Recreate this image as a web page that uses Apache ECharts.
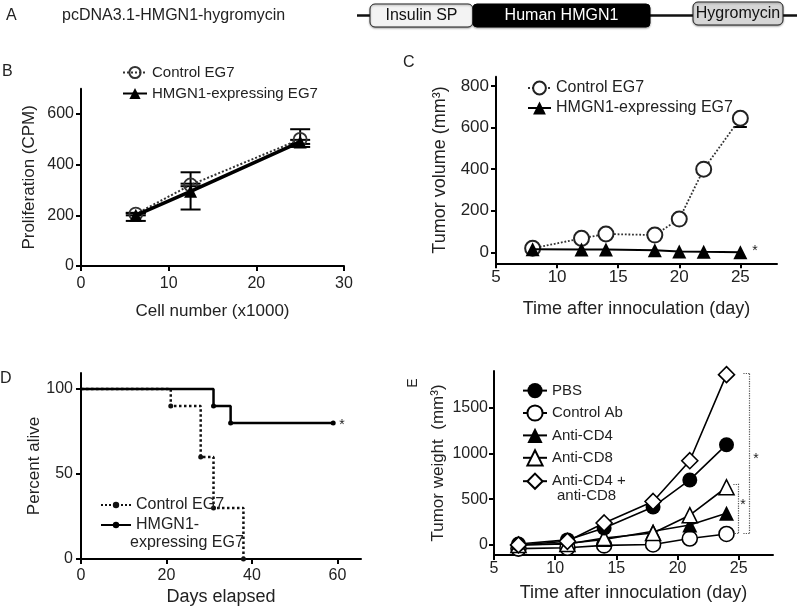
<!DOCTYPE html>
<html><head><meta charset="utf-8">
<script src="https://cdn.jsdelivr.net/npm/echarts@6/dist/echarts.min.js"></script>
<style>html,body{margin:0;padding:0;background:#fff}#c{width:800px;height:607px}</style>
</head><body><div id="c"></div>
<script>
// ---------- Panel B: proliferation ----------
const bCells = [6.25, 12.5, 25];
const bControl = [205, 320, 500];
const bControlErrLo = [5, 5, 30];
const bControlErrHi = [5, 5, 40];
const bHmgn1 = [200, 295, 490];
const bHmgn1ErrLo = [22, 72, 8];
const bHmgn1ErrHi = [8, 75, 8];
const bXTicks = [0, 10, 20, 30];
const bYTicks = [0, 200, 400, 600];
// ---------- Panel C: tumor volume ----------
const cDays = [8, 12, 14, 18, 20, 22, 25];
const cControl = [19, 67, 88, 83, 160, 400, 645];
const cControlErrLo = [0, 0, 0, 0, 0, 0, 42];
const cControlErrHi = [0, 0, 0, 0, 0, 0, 0];
const cHmgn1 = [15, 14, 13, 10, 4, 2, 0];
const cXTicks = [5, 10, 15, 20, 25];
const cYTicks = [0, 200, 400, 600, 800];
// ---------- Panel D: survival ----------
const dControlDays = [0, 21, 28, 31, 38];
const dControlPct = [100, 90, 60, 30, 0];
const dHmgn1Days = [0, 31, 35, 59];
const dHmgn1Pct = [100, 90, 80, 80];
const dXTicks = [0, 20, 40, 60];
const dYTicks = [0, 50, 100];
// ---------- Panel E: depletion ----------
const eDays = [7, 11, 14, 18, 21, 24];
const ePBS = [10, 55, 185, 415, 710, 1095];
const eControlAb = [-40, -30, -5, 5, 70, 120];
const eAntiCD4 = [0, 15, 60, 150, 218, 345];
const eAntiCD8 = [0, 10, 75, 130, 325, 630];
const eAntiCD4CD8 = [0, 40, 240, 475, 920, 1860];
const eXTicks = [5, 10, 15, 20, 25];
const eYTicks = [0, 500, 1000, 1500];
// significance brackets (annotation, data coords)
const eBracketBig = [[25.38, 1870], [25.87, 1870], [25.87, 128], [25.38, 128]];
const eBracketSmall = [[24.56, 667], [24.97, 667], [24.97, 131], [24.56, 131]];

const FF = "'Liberation Sans', Arial, Helvetica, sans-serif";
const TXT = '#222';
const plain = v => String(v);

function axis(grid, min, max, ticks, opts) {
  return {
    type: 'value', gridIndex: grid, min, max,
    name: opts.name, nameLocation: 'middle', nameGap: opts.nameGap,
    nameTextStyle: {fontFamily: FF, fontSize: opts.nameSize, color: TXT},
    axisLine: {show: true, onZero: false, lineStyle: {color: '#000', width: 2}},
    axisTick: {show: true, length: 5, customValues: ticks, lineStyle: {color: '#000', width: 2}},
    axisLabel: {customValues: ticks, formatter: plain, margin: opts.margin, fontFamily: FF, fontSize: opts.labelSize, color: TXT},
    splitLine: {show: false}
  };
}
function pairs(xs, ys) { return xs.map((x, i) => [x, ys[i]]); }
function errorBars(idx, xs, ys, lo, hi, capW, lw) {
  const data = [];
  xs.forEach((x, i) => { if (lo[i] > 0 || hi[i] > 0) data.push([x, ys[i] - lo[i], ys[i] + hi[i], ys[i]]); });
  return {
    type: 'custom', xAxisIndex: idx, yAxisIndex: idx, silent: true, z: 1,
    data, encode: {x: 0, y: [1, 2]},
    renderItem(params, api) {
      const x = api.value(0);
      const pLo = api.coord([x, api.value(1)]);
      const pHi = api.coord([x, api.value(2)]);
      const pMid = api.coord([x, api.value(3)]);
      const style = {stroke: '#000', lineWidth: lw};
      const ch = [{type: 'line', shape: {x1: pLo[0], y1: pLo[1], x2: pHi[0], y2: pHi[1]}, style}];
      if (pLo[1] - pMid[1] > 0.5) ch.push({type: 'line', shape: {x1: pLo[0] - capW, y1: pLo[1], x2: pLo[0] + capW, y2: pLo[1]}, style});
      if (pMid[1] - pHi[1] > 0.5) ch.push({type: 'line', shape: {x1: pHi[0] - capW, y1: pHi[1], x2: pHi[0] + capW, y2: pHi[1]}, style});
      return {type: 'group', children: ch};
    }
  };
}
function stepData(xs, ys) {
  return xs.map((x, i) => i === 0 ? {value: [x, ys[i]], symbol: 'none'} : [x, ys[i]]);
}
function bracket(pts) {
  const segs = [];
  for (let i = 0; i < pts.length - 1; i++) segs.push([{coord: pts[i]}, {coord: pts[i + 1]}]);
  return segs;
}
const stripName = n => n.split('|')[1];
const legendText = {fontFamily: FF, color: TXT};

const option = {
  animation: false,
  backgroundColor: '#fff',
  grid: [
    {left: 81, top: 88.7, width: 263, height: 177.3},
    {left: 496, top: 76.7, width: 281, height: 186.6},
    {left: 81, top: 373, width: 280, height: 186},
    {left: 494, top: 371, width: 279, height: 184}
  ],
  xAxis: [
    axis(0, 0, 30, bXTicks, {name: 'Cell number (x1000)', nameGap: 37, nameSize: 17, margin: 10, labelSize: 16}),
    axis(1, 5, 28, cXTicks, {name: 'Time after innoculation (day)', nameGap: 37, nameSize: 18, margin: 6, labelSize: 17}),
    axis(2, 0, 65.5, dXTicks, {name: 'Days elapsed', nameGap: 29, nameSize: 18, margin: 9, labelSize: 16}),
    axis(3, 5, 27.8, eXTicks, {name: 'Time after innoculation (day)', nameGap: 29, nameSize: 18, margin: 6, labelSize: 16})
  ],
  yAxis: [
    axis(0, 0, 700, bYTicks, {name: 'Proliferation (CPM)', nameGap: 43, nameSize: 17, margin: 7, labelSize: 16}),
    axis(1, -53, 845, cYTicks, {name: 'Tumor volume (mm³)', nameGap: 47, nameSize: 18, margin: 7, labelSize: 17}),
    axis(2, 0, 109.4, dYTicks, {name: 'Percent alive', nameGap: 38, nameSize: 17, margin: 8, labelSize: 16}),
    axis(3, -110, 1900, eYTicks, {name: 'Tumor weight  (mm³)', nameGap: 47, nameSize: 17, margin: 6, labelSize: 16})
  ],
  legend: [
    {left: 117, top: 60, orient: 'vertical', itemWidth: 24, itemHeight: 14, itemGap: 6, selectedMode: false,
     data: ['B|Control EG7', 'B|HMGN1-expressing EG7'], formatter: stripName, textStyle: Object.assign({fontSize: 15}, legendText)},
    {left: 522, top: 75, orient: 'vertical', itemWidth: 23, itemHeight: 16, itemGap: 4, selectedMode: false,
     data: ['C|Control EG7', 'C|HMGN1-expressing EG7'], formatter: stripName, textStyle: Object.assign({fontSize: 16}, legendText)},
    {left: 95, top: 492, orient: 'vertical', itemWidth: 30, itemHeight: 8, itemGap: 4, selectedMode: false,
     data: ['D|Control EG7', 'D|HMGN1-expressing EG7'],
     formatter: n => n === 'D|HMGN1-expressing EG7' ? 'HMGN1-' : stripName(n),
     textStyle: Object.assign({fontSize: 16}, legendText)},
    {left: 517, top: 378, orient: 'vertical', itemWidth: 24, itemHeight: 19, itemGap: 6.2, selectedMode: false,
     data: ['E|PBS', 'E|Control Ab', 'E|Anti-CD4', 'E|Anti-CD8', 'E|Anti-CD4 + anti-CD8'],
     formatter: n => n === 'E|Anti-CD4 + anti-CD8' ? 'Anti-CD4 +' : stripName(n),
     textStyle: Object.assign({fontSize: 15}, legendText)}
  ],
  series: [
    // ----- B -----
    errorBars(0, bCells, bControl, bControlErrLo, bControlErrHi, 10, 2),
    errorBars(0, bCells, bHmgn1, bHmgn1ErrLo, bHmgn1ErrHi, 10, 2),
    {name: 'B|Control EG7', type: 'line', xAxisIndex: 0, yAxisIndex: 0, data: pairs(bCells, bControl),
     symbol: 'circle', symbolSize: 13, lineStyle: {color: '#333', width: 2, type: 'dotted'},
     itemStyle: {color: 'rgba(255,255,255,0)', borderColor: '#333', borderWidth: 1.8}, z: 2},
    {name: 'B|HMGN1-expressing EG7', type: 'line', xAxisIndex: 0, yAxisIndex: 0, data: pairs(bCells, bHmgn1),
     symbol: 'triangle', symbolSize: 13, lineStyle: {color: '#000', width: 3.5},
     itemStyle: {color: '#000'}, z: 3},
    // ----- C -----
    errorBars(1, cDays, cControl, cControlErrLo, cControlErrHi, 6.5, 2),
    {name: 'C|Control EG7', type: 'line', xAxisIndex: 1, yAxisIndex: 1, data: pairs(cDays, cControl),
     symbol: 'circle', symbolSize: 15, lineStyle: {color: '#333', width: 1.8, type: 'dotted'},
     itemStyle: {color: '#fff', borderColor: '#222', borderWidth: 2}, z: 2},
    {name: 'C|HMGN1-expressing EG7', type: 'line', xAxisIndex: 1, yAxisIndex: 1, data: pairs(cDays, cHmgn1),
     symbol: 'triangle', symbolSize: 14, lineStyle: {color: '#000', width: 2},
     itemStyle: {color: '#000'}, z: 3},
    // ----- D -----
    {name: 'D|Control EG7', type: 'line', step: 'end', xAxisIndex: 2, yAxisIndex: 2, data: stepData(dControlDays, dControlPct),
     symbol: 'circle', symbolSize: 5, lineStyle: {color: '#111', width: 2.5, type: 'dotted'},
     itemStyle: {color: '#111'}, z: 2},
    {name: 'D|HMGN1-expressing EG7', type: 'line', step: 'end', xAxisIndex: 2, yAxisIndex: 2, data: stepData(dHmgn1Days, dHmgn1Pct),
     symbol: 'circle', symbolSize: 5, lineStyle: {color: '#000', width: 2.5},
     itemStyle: {color: '#000'}, z: 3},
    // ----- E -----
    {name: 'E|Control Ab', type: 'line', xAxisIndex: 3, yAxisIndex: 3, data: pairs(eDays, eControlAb),
     symbol: 'circle', symbolSize: 15, lineStyle: {color: '#000', width: 1.6},
     itemStyle: {color: '#fff', borderColor: '#000', borderWidth: 1.6}, z: 2,
     markLine: {silent: true, symbol: 'none', label: {show: false},
       lineStyle: {color: '#555', width: 1.2, type: 'dotted'},
       data: bracket(eBracketBig).concat(bracket(eBracketSmall))}},
    {name: 'E|Anti-CD4', type: 'line', xAxisIndex: 3, yAxisIndex: 3, data: pairs(eDays, eAntiCD4),
     symbol: 'triangle', symbolSize: 15, lineStyle: {color: '#000', width: 1.6},
     itemStyle: {color: '#000'}, z: 3},
    {name: 'E|Anti-CD8', type: 'line', xAxisIndex: 3, yAxisIndex: 3, data: pairs(eDays, eAntiCD8),
     symbol: 'triangle', symbolSize: 15, lineStyle: {color: '#000', width: 1.6},
     itemStyle: {color: '#fff', borderColor: '#000', borderWidth: 1.6}, z: 4},
    {name: 'E|PBS', type: 'line', xAxisIndex: 3, yAxisIndex: 3, data: pairs(eDays, ePBS),
     symbol: 'circle', symbolSize: 15, lineStyle: {color: '#000', width: 1.6},
     itemStyle: {color: '#000'}, z: 5},
    {name: 'E|Anti-CD4 + anti-CD8', type: 'line', xAxisIndex: 3, yAxisIndex: 3, data: pairs(eDays, eAntiCD4CD8),
     symbol: 'diamond', symbolSize: 16, lineStyle: {color: '#000', width: 1.6},
     itemStyle: {color: '#fff', borderColor: '#000', borderWidth: 1.6}, z: 6}
  ],
  graphic: [
    // Panel A construct diagram
    {type: 'text', left: 6, top: 8, style: {text: 'A', font: '16px ' + FF, fill: TXT}},
    {type: 'text', left: 62, top: 8, style: {text: 'pcDNA3.1-HMGN1-hygromycin', font: '16px ' + FF, fill: TXT}},
    {type: 'line', shape: {x1: 357, y1: 15.5, x2: 797, y2: 15.5}, style: {stroke: '#111', lineWidth: 2.5}},
    {type: 'rect', shape: {x: 370, y: 4, width: 103, height: 23, r: 5},
     style: {fill: '#f3f3f3', stroke: '#222', lineWidth: 1, shadowBlur: 2, shadowOffsetY: 1, shadowColor: 'rgba(0,0,0,0.35)'}},
    {type: 'text', x: 421.5, y: 15.5, style: {text: 'Insulin SP', font: '16px ' + FF, fill: '#111', align: 'center', verticalAlign: 'middle'}},
    {type: 'rect', shape: {x: 473, y: 4, width: 177, height: 23, r: 4},
     style: {fill: '#000', stroke: '#000', lineWidth: 1, shadowBlur: 2, shadowOffsetY: 1, shadowColor: 'rgba(0,0,0,0.35)'}},
    {type: 'text', x: 561.5, y: 15.5, style: {text: 'Human HMGN1', font: '16px ' + FF, fill: '#fff', align: 'center', verticalAlign: 'middle'}},
    {type: 'rect', shape: {x: 693, y: 2, width: 90, height: 23, r: 5},
     style: {fill: '#d6d6d6', stroke: '#222', lineWidth: 1, shadowBlur: 2, shadowOffsetY: 1, shadowColor: 'rgba(0,0,0,0.35)'}},
    {type: 'text', x: 738, y: 13.5, style: {text: 'Hygromycin', font: '16px ' + FF, fill: '#111', align: 'center', verticalAlign: 'middle'}},
    // panel letters
    {type: 'text', left: 2, top: 64, style: {text: 'B', font: '16px ' + FF, fill: TXT}},
    {type: 'text', left: 403, top: 55, style: {text: 'C', font: '16px ' + FF, fill: TXT}},
    {type: 'text', left: 0, top: 371, style: {text: 'D', font: '16px ' + FF, fill: TXT}},
    {type: 'text', x: 413, y: 383, rotation: Math.PI / 2, style: {text: 'E', font: '14px ' + FF, fill: TXT, align: 'center', verticalAlign: 'middle'}},
    // second lines of legend entries
    {type: 'text', x: 130, y: 543, style: {text: 'expressing EG7', font: '16px ' + FF, fill: TXT, verticalAlign: 'middle'}},
    {type: 'text', x: 557, y: 496, style: {text: 'anti-CD8', font: '15px ' + FF, fill: TXT, verticalAlign: 'middle'}},
    // significance stars
    {type: 'text', x: 755, y: 251, style: {text: '*', font: '14px ' + FF, fill: TXT, align: 'center', verticalAlign: 'middle'}},
    {type: 'text', x: 342, y: 425, style: {text: '*', font: '14px ' + FF, fill: TXT, align: 'center', verticalAlign: 'middle'}},
    {type: 'text', x: 756, y: 459, style: {text: '*', font: '14px ' + FF, fill: TXT, align: 'center', verticalAlign: 'middle'}},
    {type: 'text', x: 743, y: 505, style: {text: '*', font: '14px ' + FF, fill: TXT, align: 'center', verticalAlign: 'middle'}}
  ]
};
const chart = echarts.init(document.getElementById('c'), null, {renderer: 'canvas'});
chart.setOption(option);
</script></body></html>
